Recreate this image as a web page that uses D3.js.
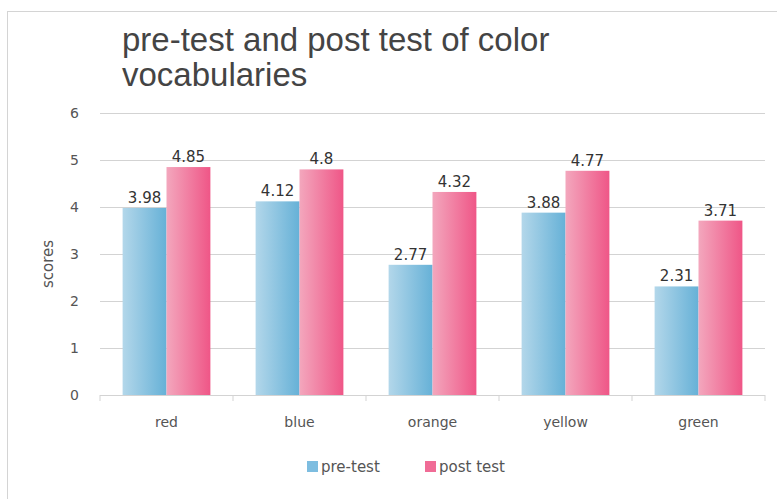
<!DOCTYPE html>
<html>
<head>
<meta charset="utf-8">
<script src="https://cdn.jsdelivr.net/npm/d3@7"></script>
<style>
  html, body { margin: 0; padding: 0; background: #fff; }
  svg { display: block; }
</style>
</head>
<body>
<svg id="chart" width="777" height="499"></svg>
<script>
// Colour vocabulary scores per category
const categories = ["red", "blue", "orange", "yellow", "green"];
const preTest = [3.98, 4.12, 2.77, 3.88, 2.31];
const postTest = [4.85, 4.8, 4.32, 4.77, 3.71];
const seriesNames = ["pre-test", "post test"];
const yTicks = [0, 1, 2, 3, 4, 5, 6];

const svg = d3.select("#chart");
const W = 777, H = 499;
const m = { left: 100, right: 12, top: 113, bottom: 104 };
const plotW = W - m.left - m.right;
const plotH = H - m.top - m.bottom;

const defs = svg.append("defs");
function grad(id, c0, c1) {
  const g = defs.append("linearGradient").attr("id", id)
    .attr("x1", "0%").attr("x2", "100%").attr("y1", "0%").attr("y2", "0%");
  g.append("stop").attr("offset", "0%").attr("stop-color", c0);
  g.append("stop").attr("offset", "100%").attr("stop-color", c1);
}
grad("gPre", "#b3d7ea", "#66b1d7");
grad("gPost", "#f3a7bd", "#ef5687");
const fills = ["url(#gPre)", "url(#gPost)"];
const swatch = ["#7dbde0", "#f06c96"];

// frame lines
svg.append("line").attr("x1", 7).attr("x2", W).attr("y1", 11.5).attr("y2", 11.5)
  .attr("stroke", "#d4d4d4").attr("stroke-width", 1);
svg.append("line").attr("x1", 7.5).attr("x2", 7.5).attr("y1", 11).attr("y2", H)
  .attr("stroke", "#d4d4d4").attr("stroke-width", 1);

// title
const title = svg.append("text")
  .attr("font-family", "Liberation Sans, Arial, sans-serif")
  .attr("font-size", 33).attr("fill", "#444");
title.append("tspan").attr("x", 122).attr("y", 51).text("pre-test and post test of color");
title.append("tspan").attr("x", 122).attr("y", 86).text("vocabularies");

const g = svg.append("g").attr("transform", `translate(${m.left},${m.top})`);

const x0 = d3.scaleBand().domain(categories).range([0, plotW]).paddingInner(0.34).paddingOuter(0.17);
const x1 = d3.scaleBand().domain([0, 1]).range([0, x0.bandwidth()]);
const y = d3.scaleLinear().domain([0, 6]).range([plotH, 0]);

// gridlines
g.append("g").selectAll("line").data(yTicks).join("line")
  .attr("x1", 0).attr("x2", plotW)
  .attr("y1", d => Math.round(y(d)) + 0.5).attr("y2", d => Math.round(y(d)) + 0.5)
  .attr("stroke", "#d3d3d3").attr("stroke-width", 1.2);

// y axis labels
const yAxis = g.append("g").attr("transform", "translate(-18,0)")
  .call(d3.axisLeft(y).tickValues(yTicks).tickSize(0).tickFormat(d3.format("d")));
yAxis.select(".domain").remove();
yAxis.selectAll("text").attr("font-family", "DejaVu Sans, sans-serif")
  .attr("font-size", 14).attr("fill", "#555").attr("dy", "0.35em");

// x axis: tick marks between categories
const xAxis = g.append("g").attr("transform", `translate(0,${plotH})`);
const step = x0.step();
const sep = d3.range(categories.length + 1).map(i => x0(categories[0]) - x0.paddingInner() * step / 2 + i * step);
xAxis.selectAll("line.sep").data(sep).join("line").attr("class", "sep")
  .attr("x1", d => d).attr("x2", d => d).attr("y1", 0).attr("y2", 6)
  .attr("stroke", "#d3d3d3").attr("stroke-width", 1);
xAxis.selectAll("text").data(categories).join("text")
  .attr("x", d => x0(d) + x0.bandwidth() / 2).attr("y", 32)
  .attr("text-anchor", "middle")
  .attr("font-family", "DejaVu Sans, sans-serif").attr("font-size", 14).attr("fill", "#555")
  .text(d => d);

// y title
svg.append("text").attr("transform", `translate(53,${m.top + plotH / 2 + 10}) rotate(-90)`)
  .attr("text-anchor", "middle")
  .attr("font-family", "DejaVu Sans, sans-serif").attr("font-size", 15).attr("fill", "#555")
  .text("scores");

// bars
const rows = categories.map((c, i) => ({ c, v: [preTest[i], postTest[i]] }));
const grp = g.selectAll("g.cat").data(rows).join("g").attr("class", "cat")
  .attr("transform", d => `translate(${x0(d.c)},0)`);
grp.selectAll("rect").data(d => d.v.map((v, s) => ({ v, s }))).join("rect")
  .attr("x", d => x1(d.s)).attr("width", x1.bandwidth())
  .attr("y", d => y(d.v)).attr("height", d => y(0) - y(d.v))
  .attr("fill", d => fills[d.s]);
grp.selectAll("text").data(d => d.v.map((v, s) => ({ v, s }))).join("text")
  .attr("x", d => x1(d.s) + x1.bandwidth() / 2).attr("y", d => y(d.v) - 5)
  .attr("text-anchor", "middle")
  .attr("font-family", "DejaVu Sans, sans-serif").attr("font-size", 15).attr("fill", "#333")
  .text(d => d.v);

// legend
const legend = svg.append("g").attr("transform", "translate(307,461)");
const items = legend.selectAll("g").data(seriesNames).join("g")
  .attr("transform", (d, i) => `translate(${i * 118},0)`);
items.append("rect").attr("width", 11).attr("height", 11).attr("fill", (d, i) => swatch[i]);
items.append("text").attr("x", 14).attr("y", 10.5)
  .attr("font-family", "DejaVu Sans, sans-serif").attr("font-size", 15).attr("fill", "#555")
  .text(d => d);
</script>
</body>
</html>
